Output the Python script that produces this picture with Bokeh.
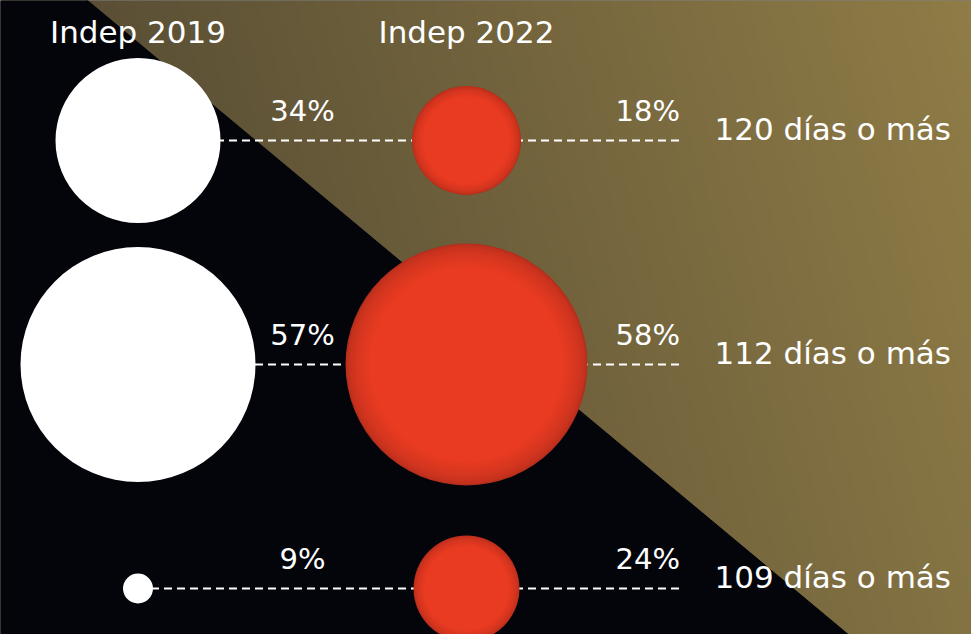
import numpy as np
from bokeh.plotting import figure
from bokeh.models import Range1d, ColumnDataSource
from bokeh.core.properties import value
from bokeh.embed import file_html
from bokeh.resources import INLINE

# ---------------- data ----------------
columns = ["Indep 2019", "Indep 2022"]
rows = ["120 días o más", "112 días o más", "109 días o más"]
pct_2019 = [34, 57, 9]
pct_2022 = [18, 58, 24]

# ---------------- drawn bubble sizes (screen px) ----------------
r_2019_px = [82.5, 117.5, 15]
r_2022_px = [54.5, 121, 53]

# ---------------- layout / style ----------------
W, H = 971, 634
PX_X = 328.5          # px per column unit
PX_Y = 224.0          # px per row unit
COL0_PX = 137.5
ROW0_PX = 140.0
DARK = "#04050b"
FONT = "DejaVu Sans"
TXT_SHIFT = 11        # compensation for svg baseline placement

x_start = -COL0_PX / PX_X
x_end = (W - COL0_PX) / PX_X
y_end = ROW0_PX / PX_Y
y_start = -(H - ROW0_PX) / PX_Y


def dx(px):
    return px / PX_X


def dy(px):
    return px / PX_Y


def to_data(px, py):
    return (px - COL0_PX) / PX_X, -(py - ROW0_PX) / PX_Y


p = figure(width=W, height=H, output_backend="svg", toolbar_location=None,
           x_range=Range1d(x_start, x_end), y_range=Range1d(y_start, y_end),
           min_border=0)
p.axis.visible = False
p.grid.visible = False
p.outline_line_color = None
p.background_fill_color = DARK
p.border_fill_color = DARK

# ---------------- background gradient ----------------
Hh, Ww = 131, 200
PAD = 15  # px of bleed around the canvas
c0 = np.array([0x5a, 0x4f, 0x35], dtype=float)
c1 = np.array([0x8f, 0x7c, 0x46], dtype=float)
jj = -PAD + (np.arange(Ww) + 0.5) * (W + 2 * PAD) / Ww
ii = H + PAD - (np.arange(Hh) + 0.5) * (H + 2 * PAD) / Hh
PXX, PYY = np.meshgrid(jj, ii)
t = np.clip((PXX - 0.3 * np.clip(PYY, 0, H) - 90) / 881.0, 0, 1)[..., None]
rgb = (c0 + (c1 - c0) * t).round().astype(np.uint8)
img = np.empty((Hh, Ww), dtype=np.uint32)
view = img.view(dtype=np.uint8).reshape((Hh, Ww, 4))
view[..., :3] = rgb
view[..., 3] = 255
ix0, iy0 = to_data(-PAD, H + PAD)
ix1, iy1 = to_data(W + PAD, -PAD)
p.image_rgba(image=[img], x=ix0, y=iy0, dw=ix1 - ix0, dh=iy1 - iy0)

# dark lower-left triangle
tri_px = [(-20, -20), (87 - 24, -20), (87 + 1.2 * 660, 660), (-20, 660)]
tri = [to_data(a, b) for a, b in tri_px]
p.patch([q[0] for q in tri], [q[1] for q in tri], fill_color=DARK, line_color=DARK, line_width=1)

# ---------------- dashed connectors ----------------
row_y = [-i for i in range(len(rows))]
line_end = dx(679.5 - COL0_PX)
p.segment(x0=[0] * len(rows), y0=row_y, x1=[line_end] * len(rows), y1=row_y,
          line_color="white", line_width=2, line_dash="8 5")

# ---------------- 2019 bubbles ----------------
p.circle(x=[0] * len(rows), y=row_y, radius=r_2019_px, radius_units="screen",
         fill_color="white", line_color=None)

# ---------------- 2022 bubbles (shaded) ----------------
edge = np.array([0xb3, 0x2e, 0x1c], dtype=float)
center = np.array([0xe8, 0x3b, 0x22], dtype=float)
N = 20
lx, ly, lr, lc = [], [], [], []
for k in range(N + 1):
    f = k / N
    col = edge + (center - edge) * (f ** 0.5)
    hexc = "#%02x%02x%02x" % tuple(int(round(v)) for v in col)
    for i in range(len(rows)):
        lx.append(1)
        ly.append(row_y[i])
        lr.append(r_2022_px[i] * (1 - 0.2 * f))
        lc.append(hexc)
p.circle(x="x", y="y", radius="r", radius_units="screen", fill_color="c", line_color=None,
         source=ColumnDataSource(dict(x=lx, y=ly, r=lr, c=lc)))

# ---------------- texts ----------------
p.text(x=[0, 1], y=[dy(ROW0_PX - 42 + TXT_SHIFT)] * 2, text=columns,
       text_font=value(FONT), text_font_size="31px", text_color="white",
       text_align="center", text_baseline="alphabetic")

p.text(x=[dx(302 - COL0_PX)] * len(rows), y=[y + dy(19 + TXT_SHIFT) for y in row_y],
       text=[f"{v}%" for v in pct_2019],
       text_font=value(FONT), text_font_size="29px", text_color="white",
       text_align="center", text_baseline="alphabetic")

p.text(x=[line_end] * len(rows), y=[y + dy(19 + TXT_SHIFT) for y in row_y],
       text=[f"{v}%" for v in pct_2022],
       text_font=value(FONT), text_font_size="29px", text_color="white",
       text_align="right", text_baseline="alphabetic")

p.text(x=[dx(714 - COL0_PX)] * len(rows), y=[y + dy(1 + TXT_SHIFT) for y in row_y],
       text=rows,
       text_font=value(FONT), text_font_size="31px", text_color="white",
       text_align="left", text_baseline="alphabetic")

html = file_html(p, INLINE)
html = html.replace("<body>", '<body style="margin:0;background:%s">' % DARK, 1)
open("out.html", "w").write(html)
